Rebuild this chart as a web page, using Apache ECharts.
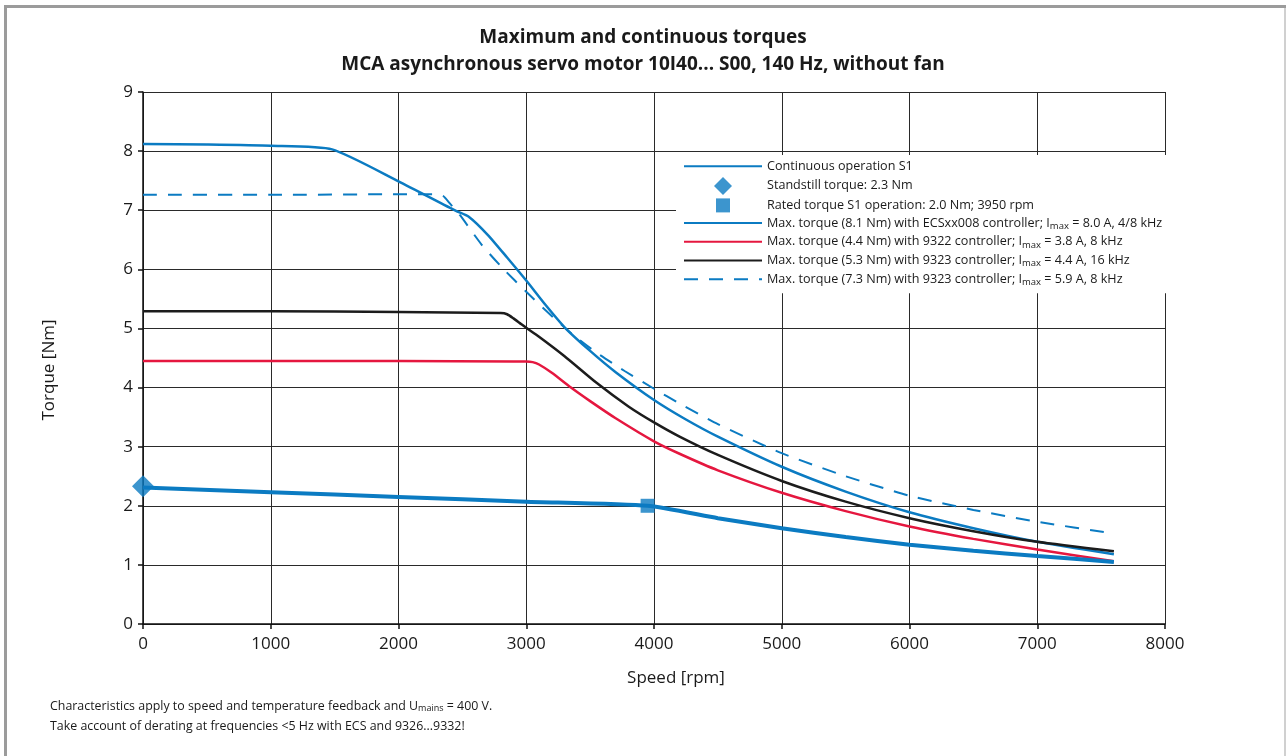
<!DOCTYPE html>
<html><head><meta charset="utf-8">
<script src="https://cdn.jsdelivr.net/npm/echarts@6/dist/echarts.min.js"></script>
<style>html,body{margin:0;padding:0;background:#fff}#c{width:1286px;height:756px}</style>
</head><body><div id="c"></div>
<script>
// ---- data (speed in rpm, torque in Nm) ----
const s1Speed  = [0, 1000, 2000, 3000, 3950, 4500, 5000, 5500, 6000, 6500, 7000, 7600];
const s1Torque = [2.31, 2.23, 2.15, 2.07, 2.0, 1.79, 1.62, 1.47, 1.34, 1.24, 1.15, 1.05];

const standstillPoint = [0, 2.33];
const ratedPoint = [3950, 2.0];

const ecsSpeed  = [0, 500, 1000, 1480, 2000, 2450, 2550, 2700, 2850, 3000, 3150, 3300, 3500, 3700, 4000, 4250, 4500, 5000, 5500, 6000, 6500, 7000, 7600];
const ecsTorque = [8.12, 8.11, 8.09, 8.03, 7.49, 6.99, 6.89, 6.58, 6.2, 5.81, 5.4, 5.02, 4.62, 4.26, 3.79, 3.46, 3.17, 2.66, 2.24, 1.89, 1.62, 1.39, 1.18];

const c9322Speed  = [0, 1000, 2000, 2900, 3000, 3050, 3100, 3200, 3350, 3500, 3700, 4000, 4200, 4500, 5000, 5500, 6000, 6500, 7000, 7600];
const c9322Torque = [4.45, 4.45, 4.45, 4.44, 4.44, 4.43, 4.39, 4.25, 4.0, 3.77, 3.48, 3.09, 2.88, 2.6, 2.22, 1.91, 1.65, 1.44, 1.26, 1.06];

const c9323aSpeed  = [0, 1000, 2000, 2800, 2850, 2900, 2950, 3000, 3100, 3300, 3550, 3800, 4000, 4200, 4500, 5000, 5500, 6000, 6500, 7000, 7600];
const c9323aTorque = [5.29, 5.29, 5.28, 5.26, 5.24, 5.17, 5.09, 5.01, 4.86, 4.53, 4.08, 3.68, 3.41, 3.17, 2.86, 2.42, 2.07, 1.79, 1.57, 1.39, 1.23];

const c9323bSpeed  = [0, 1000, 2000, 2300, 2350, 2400, 2480, 2650, 2815, 3000, 3170, 3340, 3550, 3770, 4000, 4200, 4500, 5000, 5500, 6000, 6500, 7000, 7600];
const c9323bTorque = [7.26, 7.26, 7.27, 7.27, 7.24, 7.12, 6.92, 6.42, 6.02, 5.62, 5.27, 4.94, 4.59, 4.28, 3.98, 3.73, 3.38, 2.89, 2.5, 2.17, 1.93, 1.73, 1.53];

const seriesNames = [
  'Continuous operation S1',
  'Standstill torque: 2.3 Nm',
  'Rated torque S1 operation: 2.0 Nm; 3950 rpm',
  'Max. torque (8.1 Nm) with ECSxx008 controller; Imax = 8.0 A, 4/8 kHz',
  'Max. torque (4.4 Nm) with 9322 controller; Imax = 3.8 A, 8 kHz',
  'Max. torque (5.3 Nm) with 9323 controller; Imax = 4.4 A, 16 kHz',
  'Max. torque (7.3 Nm) with 9323 controller; Imax = 5.9 A, 8 kHz'
];

const titleText = 'Maximum and continuous torques\nMCA asynchronous servo motor 10I40... S00, 140 Hz, without fan';
const xName = 'Speed [rpm]';
const yName = 'Torque [Nm]';

const BLUE = '#0b7bc2', RED = '#e5173f', BLACK = '#1c1c1c';
const FONT = 'Open Sans';

function pairs(xs, ys) { return xs.map((x, i) => [x, ys[i]]); }
function lineSeries(name, xs, ys, color, width, type, z) {
  return {
    name, type: 'line', data: pairs(xs, ys), symbol: 'none', showSymbol: false,
    smooth: 0.2, z: z || 2,
    lineStyle: { color, width, type: type || 'solid' }, itemStyle: { color },
    emphasis: { disabled: true }, animation: false
  };
}

// legend icons: 78x18 boxes with the marker centred (invisible move points fix the box)
const diamondIcon = 'path://M0,9 M78,9 M39,0 L48,9 L39,18 L30,9 Z';
const squareIcon = 'path://M0,9 M78,9 M32,2 L46,2 L46,16 L32,16 Z';

const legendData = seriesNames.map((n, i) => {
  if (i === 1) return { name: n, icon: diamondIcon };
  if (i === 2) return { name: n, icon: squareIcon };
  return { name: n, itemStyle: { opacity: 0 } };
});

const chart = echarts.init(document.getElementById('c'), null, { renderer: 'canvas' });
chart.setOption({
  animation: false,
  backgroundColor: '#fff',
  textStyle: { fontFamily: FONT },
  title: {
    text: titleText, left: 'center', top: 19,
    textStyle: { fontFamily: FONT, fontWeight: 'bold', fontSize: 19, lineHeight: 27, color: '#1a1a1a' }
  },
  grid: { left: 143, right: 121, top: 92, bottom: 132, containLabel: false },
  xAxis: {
    type: 'value', min: 0, max: 8000, interval: 1000,
    name: xName, nameLocation: 'middle', nameGap: 46,
    nameTextStyle: { fontSize: 17, color: '#1a1a1a', padding: [0, 0, 0, 44] },
    axisLine: { show: true, lineStyle: { color: '#111', width: 1.5 } },
    axisTick: { show: true, length: 5, lineStyle: { color: '#111', width: 1.5 } },
    axisLabel: { fontSize: 17, color: '#1a1a1a', margin: 12, formatter: v => String(v) },
    splitLine: { show: true, lineStyle: { color: '#2a2a2a', width: 1 } }
  },
  yAxis: {
    type: 'value', min: 0, max: 9, interval: 1,
    name: yName, nameLocation: 'middle', nameGap: 85, nameRotate: 90,
    nameTextStyle: { fontSize: 17, color: '#1a1a1a', padding: [0, 24, 0, 0] },
    axisLine: { show: true, lineStyle: { color: '#111', width: 1.5 } },
    axisTick: { show: true, length: 5, lineStyle: { color: '#111', width: 1.5 } },
    axisLabel: { fontSize: 17, color: '#1a1a1a', margin: 10 },
    splitLine: { show: true, lineStyle: { color: '#2a2a2a', width: 1 } }
  },
  legend: {
    orient: 'vertical', left: 676, top: 155,
    padding: [4, 4, 6, 7], itemGap: 3.5,
    itemWidth: 78, itemHeight: 18,
    backgroundColor: '#fff',
    data: legendData,
    selectedMode: false,
    textStyle: {
      fontFamily: FONT, fontSize: 12.6, color: '#1a1a1a',
      rich: { sub: { fontFamily: FONT, fontSize: 9.5, color: '#1a1a1a', padding: [6, 0, 0, 0] } }
    },
    formatter: n => n.replace('Imax', 'I{sub|max}'),
    z: 10
  },
  series: [
    lineSeries(seriesNames[0], s1Speed, s1Torque, BLUE, 4, 'solid', 5),
    { name: seriesNames[1], type: 'scatter', data: [standstillPoint], symbol: 'diamond', symbolSize: [22, 22],
      itemStyle: { color: BLUE }, z: 6, emphasis: { disabled: true } },
    { name: seriesNames[2], type: 'scatter', data: [ratedPoint], symbol: 'rect', symbolSize: 14,
      itemStyle: { color: BLUE }, z: 6, emphasis: { disabled: true } },
    lineSeries(seriesNames[3], ecsSpeed, ecsTorque, BLUE, 2.5, 'solid', 3),
    lineSeries(seriesNames[4], c9322Speed, c9322Torque, RED, 2.5, 'solid', 3),
    lineSeries(seriesNames[5], c9323aSpeed, c9323aTorque, BLACK, 2.5, 'solid', 3),
    lineSeries(seriesNames[6], c9323bSpeed, c9323bTorque, BLUE, 2, [14, 11], 3)
  ],
  graphic: [
    { type: 'line', shape: { x1: 4, y1: 6.5, x2: 1286, y2: 6.5 }, style: { stroke: '#9b9b9b', lineWidth: 3 }, silent: true },
    { type: 'line', shape: { x1: 5.5, y1: 5, x2: 5.5, y2: 756 }, style: { stroke: '#9b9b9b', lineWidth: 3 }, silent: true },
    { type: 'line', shape: { x1: 1285, y1: 8, x2: 1285, y2: 756 }, style: { stroke: '#d0d0d0', lineWidth: 2 }, silent: true },
    { type: 'text', left: 50, top: 696, silent: true,
      style: {
        text: 'Characteristics apply to speed and temperature feedback and U{sub|mains} = 400 V.\nTake account of derating at frequencies <5 Hz with ECS and 9326...9332!',
        font: '12.4px "Open Sans"', fill: '#1a1a1a', lineHeight: 20,
        rich: { sub: { fontSize: 9, fontFamily: FONT, fill: '#1a1a1a', padding: [5, 0, 0, 0] } }
      } }
  ]
});
</script>
</body></html>
